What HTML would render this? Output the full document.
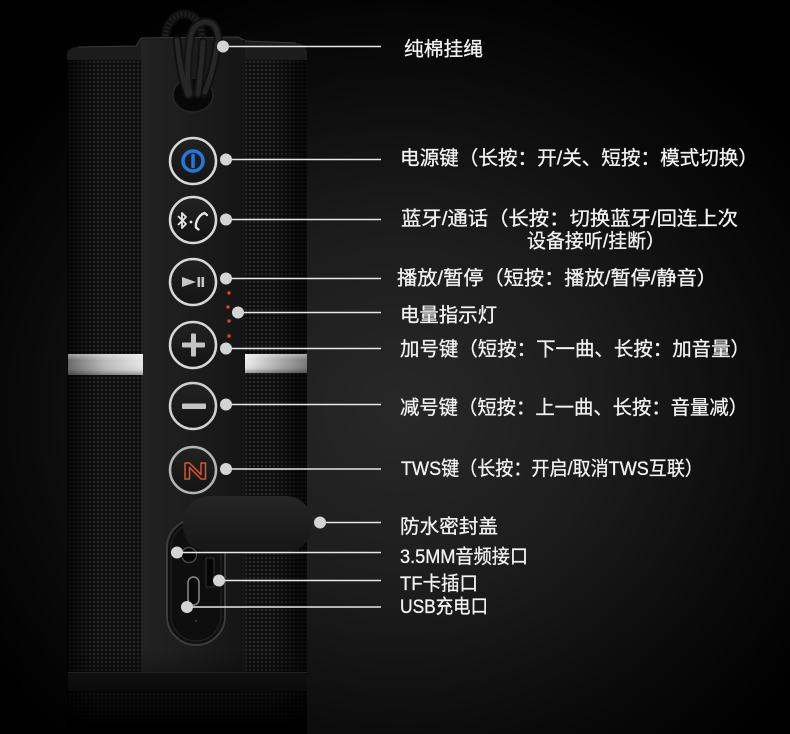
<!DOCTYPE html>
<html><head><meta charset="utf-8">
<style>
html,body{margin:0;padding:0;background:#000;}
body{width:790px;height:734px;overflow:hidden;position:relative;
background:radial-gradient(ellipse 500px 460px at 400px 410px,#282828 0%,#1c1c1c 40%,#0a0a0a 75%,#000 100%);}
svg{position:absolute;left:0;top:0;}
text{font-family:"Liberation Sans","Noto Sans CJK SC",sans-serif;font-size:19.5px;fill:#f2f2f2;stroke:#f2f2f2;stroke-width:0.3px;}
</style></head>
<body>
<svg width="790" height="734" viewBox="0 0 790 734" xmlns="http://www.w3.org/2000/svg">
<defs>
  <pattern id="fab" width="4" height="4" patternUnits="userSpaceOnUse">
    <rect width="4" height="4" fill="#0c0c0c"/>
    <circle cx="2" cy="2" r="1.4" fill="#2c2c2c"/>
  </pattern>
  <linearGradient id="cyl" x1="67" x2="307" y1="0" y2="0" gradientUnits="userSpaceOnUse">
    <stop offset="0" stop-color="#000" stop-opacity="0.75"/>
    <stop offset="0.12" stop-color="#000" stop-opacity="0.15"/>
    <stop offset="0.85" stop-color="#000" stop-opacity="0.12"/>
    <stop offset="1" stop-color="#000" stop-opacity="0.7"/>
  </linearGradient>
  <linearGradient id="strip" x1="141" x2="245" y1="0" y2="0" gradientUnits="userSpaceOnUse">
    <stop offset="0" stop-color="#222"/>
    <stop offset="0.5" stop-color="#1c1c1c"/>
    <stop offset="1" stop-color="#151515"/>
  </linearGradient>
  <linearGradient id="silL" x1="68" x2="143" y1="0" y2="0" gradientUnits="userSpaceOnUse">
    <stop offset="0" stop-color="#6a6a6a"/>
    <stop offset="0.5" stop-color="#bdbdbd"/>
    <stop offset="1" stop-color="#e8e8e8"/>
  </linearGradient>
  <linearGradient id="silR" x1="245" x2="307" y1="0" y2="0" gradientUnits="userSpaceOnUse">
    <stop offset="0" stop-color="#eeeeee"/>
    <stop offset="0.5" stop-color="#b4b4b4"/>
    <stop offset="1" stop-color="#7a7a7a"/>
  </linearGradient>
  <linearGradient id="silV" x1="0" x2="0" y1="0" y2="1">
    <stop offset="0" stop-color="#fff" stop-opacity="0.35"/>
    <stop offset="0.3" stop-color="#fff" stop-opacity="0"/>
    <stop offset="0.75" stop-color="#000" stop-opacity="0.05"/>
    <stop offset="1" stop-color="#000" stop-opacity="0.35"/>
  </linearGradient>
  <linearGradient id="fade" x1="0" x2="0" y1="650" y2="726" gradientUnits="userSpaceOnUse">
    <stop offset="0" stop-color="#000" stop-opacity="0"/>
    <stop offset="0.55" stop-color="#000" stop-opacity="0.5"/>
    <stop offset="1" stop-color="#000" stop-opacity="1"/>
  </linearGradient>
  <linearGradient id="btn" x1="0" x2="0" y1="0" y2="1">
    <stop offset="0" stop-color="#222"/>
    <stop offset="1" stop-color="#141414"/>
  </linearGradient>
  <linearGradient id="lid" x1="0" x2="0" y1="0" y2="1">
    <stop offset="0" stop-color="#252525"/>
    <stop offset="1" stop-color="#161616"/>
  </linearGradient>
</defs>

<!-- back rope loop -->
<path d="M166,44 C163,27 174,13 185,14 C196,15 202,24 202,42" fill="none" stroke="#101010" stroke-width="9" stroke-linecap="round"/>
<path d="M166,44 C163,27 174,13 185,14 C196,15 202,24 202,42" fill="none" stroke="#232323" stroke-width="5" stroke-dasharray="1.5 2.5"/>

<!-- fabric body -->
<rect x="67" y="50" width="240" height="684" fill="url(#fab)"/>
<rect x="67" y="50" width="240" height="684" fill="url(#cyl)"/>

<!-- top cap -->
<path d="M67,60 L67,55 Q68,47 78,47 L136,46 L141,38 L238,37 L246,41 L296,43 Q306,44 307,52 L307,60 Z" fill="#1c1c1c"/>
<path d="M78,47 L136,46 L141,38 L238,37 L246,41 L296,43" fill="none" stroke="#3a3a3a" stroke-width="1"/>

<!-- center strip -->
<rect x="141" y="40" width="104" height="632" fill="url(#strip)"/>

<!-- lanyard hole -->
<ellipse cx="193" cy="95" rx="20" ry="17" fill="#080808" stroke="#262626" stroke-width="1.5"/>

<!-- front rope -->
<g fill="none" stroke-linecap="round">
  <path d="M190,44 C190,29 198,21 207,22 C215,23 219,31 218,44" stroke="#121212" stroke-width="9"/>
  <path d="M177,40 C179,60 182,80 188,95" stroke="#101010" stroke-width="9"/>
  <path d="M190,40 C188,58 186,76 190,94" stroke="#141414" stroke-width="9"/>
  <path d="M203,42 C202,60 200,76 198,94" stroke="#121212" stroke-width="9"/>
  <path d="M217,44 C215,62 210,80 204,94" stroke="#101010" stroke-width="9"/>
  <g stroke="#262626" stroke-width="5" stroke-dasharray="1.5 2.5">
    <path d="M190,44 C190,29 198,21 207,22 C215,23 219,31 218,44"/>
    <path d="M177,40 C179,60 182,80 188,95"/>
    <path d="M190,40 C188,58 186,76 190,94"/>
    <path d="M203,42 C202,60 200,76 198,94"/>
    <path d="M217,44 C215,62 210,80 204,94"/>
  </g>
</g>

<!-- silver bands -->
<rect x="68" y="354" width="75" height="21" fill="url(#silL)"/>
<rect x="68" y="354" width="75" height="21" fill="url(#silV)"/>
<rect x="245" y="354" width="62" height="19" fill="url(#silR)"/>
<rect x="245" y="354" width="62" height="19" fill="url(#silV)"/>

<!-- buttons -->
<g stroke-width="2.5">
  <circle cx="193" cy="161" r="23" fill="url(#btn)" stroke="#d8d8d8"/>
  <circle cx="193" cy="220" r="23" fill="url(#btn)" stroke="#d8d8d8"/>
  <circle cx="193" cy="282" r="23" fill="url(#btn)" stroke="#d8d8d8"/>
  <circle cx="193" cy="345" r="23" fill="url(#btn)" stroke="#d8d8d8"/>
  <circle cx="193" cy="406" r="23" fill="url(#btn)" stroke="#d0d0d0"/>
  <circle cx="193" cy="470" r="23" fill="url(#btn)" stroke="#b4b4b4"/>
</g>
<!-- power icon -->
<circle cx="193" cy="161" r="10" fill="none" stroke="#1f7ae0" stroke-width="3.5"/>
<line x1="193" y1="155.5" x2="193" y2="166.5" stroke="#1f7ae0" stroke-width="3.5" stroke-linecap="round"/>
<!-- bluetooth/phone icon -->
<path d="M178,216 L186,224 L182,228 L182,213 L186,217 L178,225" fill="none" stroke="#e6e6e6" stroke-width="1.8" stroke-linejoin="round"/>
<circle cx="191" cy="222" r="1.4" fill="#e6e6e6"/>
<path d="M207,215 L204.5,213 C199,215 195,222 196,227.5 L198.5,229.5" fill="none" stroke="#e6e6e6" stroke-width="2.4" stroke-linecap="round"/>
<!-- play/pause -->
<polygon points="182,277 182,287 196,282" fill="#c6c6c6"/>
<rect x="197.5" y="277" width="2.6" height="10" fill="#c6c6c6"/>
<rect x="201.5" y="277" width="2.6" height="10" fill="#c6c6c6"/>
<!-- plus -->
<rect x="182" y="342.5" width="23" height="5" rx="1" fill="#c4c4c4"/>
<rect x="191" y="333.5" width="5" height="23" rx="1" fill="#c4c4c4"/>
<!-- minus -->
<rect x="182" y="403.5" width="24" height="5.5" rx="1" fill="#c4c4c4"/>
<!-- TWS icon -->
<path d="M185,463 h4.5 l11.5,11.5 v-11.5 h4.5 v16 h-4.5 l-11.5,-11.5 v11.5 h-4.5 z" fill="none" stroke="#e4521f" stroke-width="1.5" stroke-linejoin="round"/>

<!-- LED dots -->
<g fill="#e8461c">
  <circle cx="229" cy="293" r="1.7"/>
  <circle cx="228" cy="307" r="1.7"/>
  <circle cx="229" cy="321" r="1.7"/>
  <circle cx="229" cy="336" r="1.7"/>
</g>

<!-- port recess -->
<rect x="167" y="519" width="58" height="126" rx="29" fill="#0e0e0e" stroke="#3c3c3c" stroke-width="2"/>
<rect x="171" y="523" width="50" height="118" rx="25" fill="none" stroke="#1f1f1f" stroke-width="1.5"/>
<circle cx="189" cy="555" r="7.5" fill="#050505" stroke="#444" stroke-width="1.5"/>
<rect x="206" y="558" width="8" height="29" rx="1" fill="#050505" stroke="#333" stroke-width="1"/>
<rect x="188" y="577" width="11" height="28" rx="5.5" fill="#0a0a0a" stroke="#888" stroke-width="1.5"/>
<circle cx="196" cy="621" r="1.2" fill="#333"/>

<!-- lid -->
<rect x="305" y="515" width="15" height="14" rx="3" fill="#222"/>
<rect x="183" y="496" width="129" height="56" rx="26" fill="url(#lid)"/>

<!-- bottom band -->
<rect x="68" y="672" width="239" height="19" fill="#151515"/>
<line x1="68" y1="672.5" x2="307" y2="672.5" stroke="#2e2e2e" stroke-width="1"/>

<!-- bottom fade (body only) -->
<rect x="67" y="630" width="240" height="104" fill="url(#fade)"/>

<!-- connector lines -->
<g stroke="#e8e8e8" stroke-width="1.5">
  <line x1="223" y1="46.5" x2="381" y2="46.5"/>
  <line x1="226" y1="159.5" x2="381" y2="159.5"/>
  <line x1="226" y1="219.5" x2="381" y2="219.5"/>
  <line x1="226" y1="278.5" x2="381" y2="278.5"/>
  <line x1="238" y1="312.5" x2="381" y2="312.5"/>
  <line x1="226" y1="348.5" x2="381" y2="348.5"/>
  <line x1="226" y1="404.5" x2="381" y2="404.5"/>
  <line x1="226" y1="469" x2="381" y2="469"/>
  <line x1="320" y1="522.5" x2="381" y2="522.5"/>
  <line x1="177" y1="552.5" x2="381" y2="552.5"/>
  <line x1="219" y1="580.5" x2="381" y2="580.5"/>
  <line x1="187" y1="607" x2="381" y2="607"/>
</g>
<!-- connector dots -->
<g fill="#d4d4d4">
  <circle cx="223" cy="46.5" r="6"/>
  <circle cx="226" cy="159.5" r="6"/>
  <circle cx="226" cy="219.5" r="6"/>
  <circle cx="226" cy="278.5" r="6"/>
  <circle cx="238" cy="312.5" r="6"/>
  <circle cx="226" cy="348.5" r="6"/>
  <circle cx="226" cy="404.5" r="6"/>
  <circle cx="226" cy="469" r="6"/>
  <circle cx="320" cy="522.5" r="6"/>
  <circle cx="177" cy="552.5" r="6"/>
  <circle cx="219" cy="580.5" r="6"/>
  <circle cx="187" cy="607" r="6"/>
</g>

<!-- labels -->
<text x="404" y="55.5" textLength="79" lengthAdjust="spacingAndGlyphs">纯棉挂绳</text>
<text x="400" y="164.5" textLength="358" lengthAdjust="spacingAndGlyphs">电源键（长按：开/关、短按：模式切换）</text>
<text x="401" y="225" textLength="337" lengthAdjust="spacingAndGlyphs">蓝牙/通话（长按：切换蓝牙/回连上次</text>
<text x="527" y="247.5" textLength="138" lengthAdjust="spacingAndGlyphs">设备接听/挂断）</text>
<text x="397" y="284.5" textLength="320" lengthAdjust="spacingAndGlyphs">播放/暂停（短按：播放/暂停/静音）</text>
<text x="400" y="321.5" textLength="97" lengthAdjust="spacingAndGlyphs">电量指示灯</text>
<text x="400" y="355.5" textLength="350" lengthAdjust="spacingAndGlyphs">加号键（短按：下一曲、长按：加音量）</text>
<text x="400" y="414" textLength="348" lengthAdjust="spacingAndGlyphs">减号键（短按：上一曲、长按：音量减）</text>
<text x="401" y="475" textLength="302" lengthAdjust="spacingAndGlyphs">TWS键（长按：开启/取消TWS互联）</text>
<text x="400" y="533" textLength="98" lengthAdjust="spacingAndGlyphs">防水密封盖</text>
<text x="400" y="563" textLength="128" lengthAdjust="spacingAndGlyphs">3.5MM音频接口</text>
<text x="400" y="590" textLength="78" lengthAdjust="spacingAndGlyphs">TF卡插口</text>
<text x="400" y="613" textLength="88" lengthAdjust="spacingAndGlyphs">USB充电口</text>
</svg>
</body></html>
